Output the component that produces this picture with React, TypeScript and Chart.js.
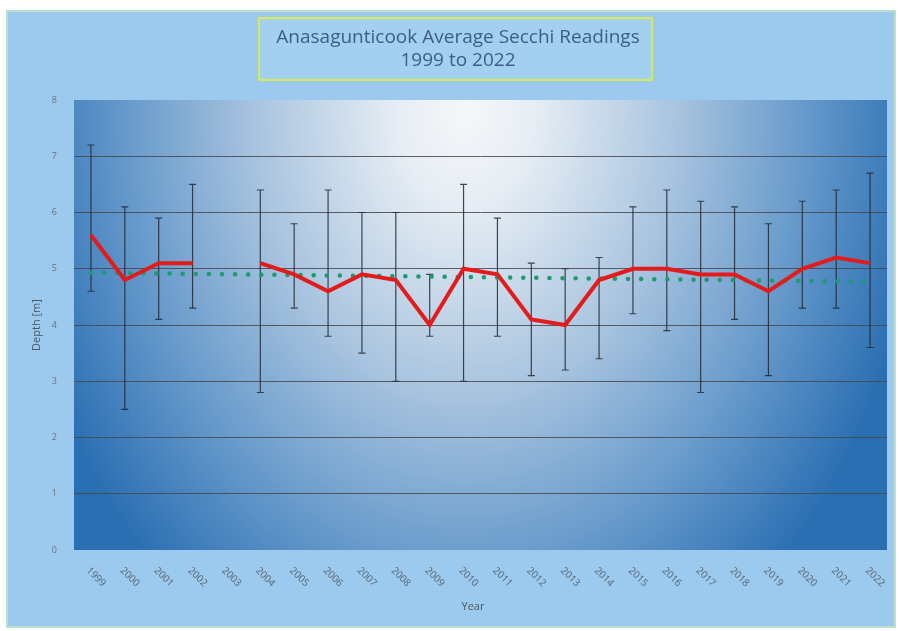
import React, { useEffect, useRef } from "react";
import { Chart, registerables } from "chart.js";

Chart.register(...registerables);

const years = ["1999","2000","2001","2002","2003","2004","2005","2006","2007","2008","2009","2010","2011","2012","2013","2014","2015","2016","2017","2018","2019","2020","2021","2022"];
const avgDepth: (number | null)[] = [5.6,4.8,5.1,5.1,null,5.1,4.9,4.6,4.9,4.8,4.0,5.0,4.9,4.1,4.0,4.8,5.0,5.0,4.9,4.9,4.6,5.0,5.2,5.1];
const maxDepth: (number | null)[] = [7.2,6.1,5.9,6.5,null,6.4,5.8,6.4,6.0,6.0,4.9,6.5,5.9,5.1,5.0,5.2,6.1,6.4,6.2,6.1,5.8,6.2,6.4,6.7];
const minDepth: (number | null)[] = [4.6,2.5,4.1,4.3,null,2.8,4.3,3.8,3.5,3.0,3.8,3.0,3.8,3.1,3.2,3.4,4.2,3.9,2.8,4.1,3.1,4.3,4.3,3.6];
const trendLine: (number | null)[] = [4.93,null,null,null,null,null,null,null,null,null,null,null,null,null,null,null,null,null,null,null,null,null,null,4.77];
const yTicks = [0,1,2,3,4,5,6,7,8];
const titleLines = ["Anasagunticook Average Secchi Readings", "1999 to 2022"];
const yTitle = "Depth [m]";
const xTitle = "Year";

const FONT = "'Open Sans', 'Liberation Sans', sans-serif";

const decorPlugin = {
  id: "decor",
  beforeDraw(chart: any) {
    const { ctx, chartArea: a } = chart;
    ctx.save();
    ctx.fillStyle = "#ffffff";
    ctx.fillRect(0, 0, chart.width, chart.height);
    // outer frame
    ctx.fillStyle = "#9cc9ee";
    ctx.fillRect(6, 10, 890, 618);
    ctx.strokeStyle = "#b9e0cf";
    ctx.lineWidth = 2;
    ctx.strokeRect(7, 11, 888, 616);
    // plot area gradient
    const cx = (a.left + a.right) / 2 - 15;
    const cy = a.top + 10;
    const sy = 1.35;
    ctx.save();
    ctx.beginPath();
    ctx.rect(a.left, a.top, a.right - a.left, a.bottom - a.top);
    ctx.clip();
    ctx.translate(cx, cy);
    ctx.scale(1, sy);
    const g = ctx.createRadialGradient(0, 0, 0, 0, 0, 460);
    g.addColorStop(0, "#f6f7f9");
    g.addColorStop(0.15, "#e6edf4");
    g.addColorStop(0.45, "#aac5e0");
    g.addColorStop(0.75, "#6498ca");
    g.addColorStop(1, "#2b6fb3");
    ctx.fillStyle = g;
    ctx.fillRect(-1000, -1000, 2000, 2000);
    ctx.restore();
    // title box
    ctx.fillStyle = "#a3cff1";
    ctx.fillRect(259, 18, 393, 62);
    ctx.strokeStyle = "#d7ea56";
    ctx.lineWidth = 2;
    ctx.strokeRect(259, 18, 393, 62);
    ctx.fillStyle = "#3d5f7e";
    ctx.font = `19px ${FONT}`;
    ctx.textAlign = "center";
    ctx.textBaseline = "middle";
    ctx.fillText(titleLines[0], 458, 38);
    ctx.fillText(titleLines[1], 458, 61);
    ctx.restore();
  },
  beforeDatasetsDraw(chart: any) {
    const { ctx } = chart;
    const xs = chart.scales.x;
    const ys = chart.scales.y;
    ctx.save();
    ctx.strokeStyle = "rgba(35,40,50,0.85)";
    ctx.lineWidth = 1.2;
    for (let i = 0; i < years.length; i++) {
      const hi = maxDepth[i];
      const lo = minDepth[i];
      if (hi == null || lo == null) continue;
      const x = xs.getPixelForValue(i);
      const y1 = ys.getPixelForValue(hi);
      const y2 = ys.getPixelForValue(lo);
      ctx.beginPath();
      ctx.moveTo(x, y1);
      ctx.lineTo(x, y2);
      ctx.moveTo(x - 3.5, y1);
      ctx.lineTo(x + 3.5, y1);
      ctx.moveTo(x - 3.5, y2);
      ctx.lineTo(x + 3.5, y2);
      ctx.stroke();
    }
    ctx.restore();
  },
  afterDraw(chart: any) {
    const { ctx, chartArea: a } = chart;
    const xs = chart.scales.x;
    ctx.save();
    ctx.fillStyle = "#5a6670";
    ctx.font = `10px ${FONT}`;
    ctx.textAlign = "center";
    ctx.textBaseline = "middle";
    for (let i = 0; i < years.length; i++) {
      const x = xs.getPixelForValue(i);
      ctx.save();
      ctx.translate(x + 5, a.bottom + 27);
      ctx.rotate(Math.PI / 4);
      ctx.fillText(years[i], 0, 0);
      ctx.restore();
    }
    ctx.fillStyle = "#4a5560";
    ctx.font = `11px ${FONT}`;
    ctx.fillText(xTitle, 473, 607);
    ctx.save();
    ctx.translate(37, 325);
    ctx.rotate(-Math.PI / 2);
    ctx.fillText(yTitle, 0, 0);
    ctx.restore();
    ctx.restore();
  },
};

export default function App() {
  const ref = useRef<HTMLCanvasElement>(null);
  useEffect(() => {
    if (!ref.current) return;
    const chart = new Chart(ref.current, {
      type: "line",
      data: {
        labels: years,
        datasets: [
          {
            label: "Average",
            data: avgDepth,
            borderColor: "#e41b1b",
            borderWidth: 4,
            pointRadius: 0,
            spanGaps: false,
            tension: 0,
            order: 1,
          },
          {
            label: "Trend",
            data: trendLine,
            borderColor: "#1f9a70",
            borderWidth: 4.5,
            borderDash: [0.1, 13],
            borderCapStyle: "round",
            pointRadius: 0,
            spanGaps: true,
            order: 2,
          },
        ],
      },
      options: {
        responsive: false,
        animation: false,
        layout: { padding: { top: 100, right: 12, left: 0, bottom: 0 } },
        plugins: { legend: { display: false }, title: { display: false }, tooltip: { enabled: false } },
        scales: {
          x: {
            type: "category",
            offset: true,
            grid: { display: false, drawTicks: false },
            border: { display: false },
            ticks: { display: false },
            afterFit: (s: any) => { s.height = 81; },
          },
          y: {
            min: 0,
            max: 8,
            afterBuildTicks: (s: any) => { s.ticks = yTicks.map((v) => ({ value: v })); },
            grid: {
              drawTicks: false,
              color: (c: any) => (c.tick && (c.tick.value === 0 || c.tick.value === 8) ? "rgba(0,0,0,0)" : "rgba(70,70,75,0.85)"),
              lineWidth: 1,
            },
            border: { display: false },
            ticks: { color: "#6a737c", font: { size: 9, family: FONT }, padding: 17 },
            afterFit: (s: any) => { s.width = 74; },
          },
        },
      },
      plugins: [decorPlugin],
    });
    return () => chart.destroy();
  }, []);
  return (
    <canvas
      ref={ref}
      width={899}
      height={631}
      style={{ position: "absolute", left: 0, top: 0, display: "block" }}
    />
  );
}
